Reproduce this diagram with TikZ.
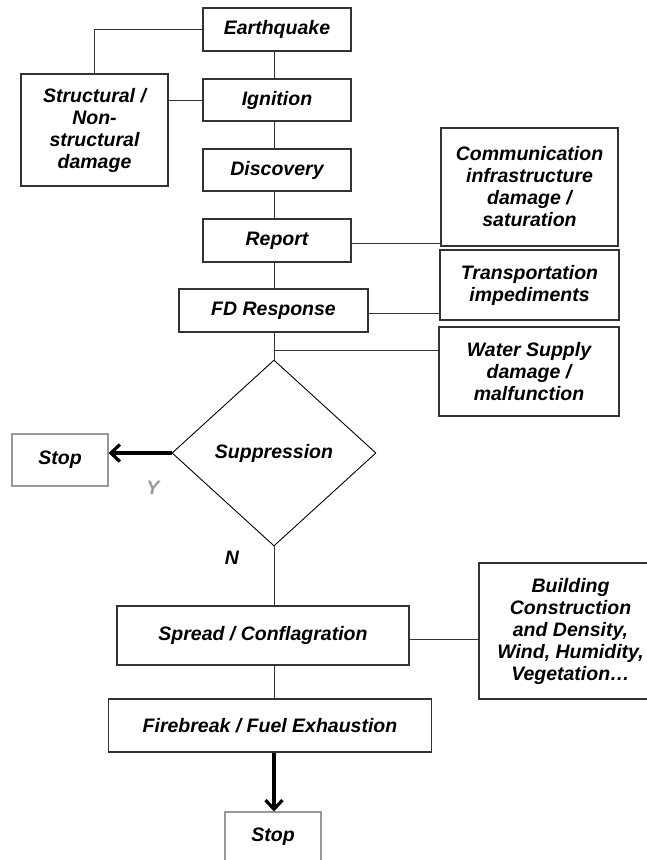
\documentclass[tikz,border=0pt]{standalone}
\usepackage{fontspec}
\setmainfont{Liberation Sans}
\usetikzlibrary{shapes.geometric,arrows.meta}
\definecolor{edge}{HTML}{333333}
\definecolor{lightedge}{HTML}{999999}
\begin{document}
\begin{tikzpicture}[x=1pt,y=-1pt,
  every node/.style={font=\fontsize{19.5}{22}\selectfont\bfseries\itshape, align=center},
  box/.style={draw=edge, line width=1.1pt, rectangle, inner sep=0pt},
  graybox/.style={draw=lightedge, line width=1.1pt, rectangle, inner sep=0pt},
  link/.style={draw=edge, line width=0.9pt},
  bigarrow/.style={line width=3.2pt, -{Straight Barb[length=9pt,width=17pt]}}]
\useasboundingbox (0,0) rectangle (647,860);
\coordinate (axis) at (274,0);
% main chain
\node[box, minimum width=148pt, minimum height=43pt] (eq) at (277,29.5) {Earthquake};
\node[box, minimum width=148pt, minimum height=42pt] (ign) at (277,100) {Ignition};
\node[box, minimum width=148pt, minimum height=42pt] (disc) at (277,170) {Discovery};
\node[box, minimum width=148pt, minimum height=43pt] (rep) at (277,240.5) {Report};
\node[box, minimum width=189pt, minimum height=43pt] (fd) at (273.5,310.5) {FD Response};
\node[draw=black, line width=0.9pt, diamond, inner sep=0pt, minimum width=204pt, minimum height=186pt] (sup) at (274,453) {Suppression};
\node[graybox, minimum width=96pt, minimum height=52pt] (stopL) at (60,460) {Stop};
\node[box, minimum width=292pt, minimum height=59pt] (spread) at (263,635.5) {Spread / Conflagration};
\node[box, minimum width=323pt, minimum height=53pt] (fire) at (270,725.5) {Firebreak / Fuel Exhaustion};
\node[graybox, minimum width=96pt, minimum height=50pt] (stopB) at (273,837) {Stop};
% side factors
\node[box, minimum width=147pt, minimum height=112pt] (str) at (94.5,130) {Structural /\\Non-\\structural\\damage};
\node[box, minimum width=177pt, minimum height=118pt] (comm) at (529.5,187) {Communication\\infrastructure\\damage /\\saturation};
\node[box, minimum width=179pt, minimum height=70pt] (trans) at (529.5,285) {Transportation\\impediments};
\node[box, minimum width=180pt, minimum height=89pt] (water) at (529,371.5) {Water Supply\\damage /\\malfunction};
\node[box, minimum width=183pt, minimum height=136pt] (build) at (570.5,631) {Building\\Construction\\and Density,\\Wind, Humidity,\\Vegetation…};
% labels
\node[text=lightedge] (ylab) at (153,488) {Y};
\node (nlab) at (232,558) {N};
% vertical chain connectors
\draw[link] (eq.south -| axis) -- (ign.north -| axis);
\draw[link] (ign.south -| axis) -- (disc.north -| axis);
\draw[link] (disc.south -| axis) -- (rep.north -| axis);
\draw[link] (rep.south -| axis) -- (fd.north -| axis);
\draw[link] (fd.south -| axis) -- (sup.north);
\draw[link] (sup.south) -- (spread.north -| axis);
\draw[link] (spread.south -| axis) -- (fire.north -| axis);
% side connectors
\draw[link] (eq.west) -| (str.north);
\draw[link] (ign.west) -- (ign.west -| str.east);
\draw[link] ([yshift=-3pt]rep.east) -- ([yshift=-3pt]rep.east -| comm.west);
\draw[link] ([yshift=-3pt]fd.east) -- ([yshift=-3pt]fd.east -| trans.west);
\coordinate (wj) at (274,350);
\draw[link] (wj) -- (wj -| water.west);
\draw[link] ([yshift=-4pt]spread.east) -- ([yshift=-4pt]spread.east -| build.west);
% arrows
\draw[bigarrow] (sup.west) -- (sup.west -| stopL.east);
\draw[bigarrow] (fire.south -| axis) -- (stopB.north -| axis);
\end{tikzpicture}
\end{document}
